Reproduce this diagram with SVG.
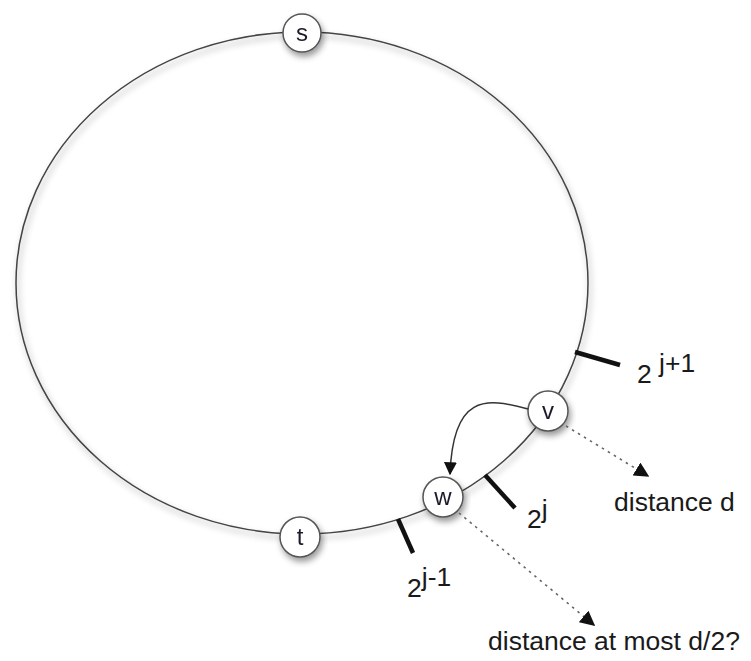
<svg xmlns="http://www.w3.org/2000/svg" width="751" height="661" viewBox="0 0 751 661">
<defs>
<filter id="sh" x="-20%" y="-20%" width="140%" height="150%">
<feDropShadow dx="2" dy="4" stdDeviation="3" flood-color="#000" flood-opacity="0.4"/>
</filter>
<marker id="ah" viewBox="0 0 10 10" refX="9" refY="5" markerWidth="13" markerHeight="13" markerUnits="userSpaceOnUse" orient="auto">
<path d="M0,0 L10,5 L0,10 Z" fill="#111"/>
</marker>
<marker id="ahd" viewBox="0 0 10 10" refX="9" refY="5" markerWidth="15" markerHeight="15" markerUnits="userSpaceOnUse" orient="auto">
<path d="M0,0 L10,5 L0,10 Z" fill="#111"/>
</marker>
</defs>
<style>
.ring{fill:none;stroke:#444;stroke-width:1.5}
.tick{stroke:#111;stroke-width:4.5;stroke-linecap:butt}
.node circle{fill:#fff;stroke:#555;stroke-width:1.5}
.nl{font-family:"Liberation Sans",Arial,sans-serif;font-size:24px;fill:#1a1a2a;text-anchor:middle}
.lbl{font-family:"Liberation Sans",Arial,sans-serif;font-size:26.5px;fill:#1a1a1a}
.edge{fill:none;stroke:#333;stroke-width:1.5}
.dot{fill:none;stroke:#666;stroke-width:1.6;stroke-dasharray:2.5 4.5}
</style>
<ellipse class="ring" cx="302" cy="283" rx="286" ry="251" filter="url(#sh)"/>
<g id="ticks">
<line class="tick" x1="575" y1="352" x2="620" y2="365"/>
<line class="tick" x1="485" y1="475" x2="515" y2="508"/>
<line class="tick" x1="398" y1="519" x2="413" y2="553"/>
</g>
<g id="s" class="node" filter="url(#sh)"><circle cx="302" cy="33" r="19"/><text class="nl" x="302" y="41">s</text></g>
<g id="v" class="node" filter="url(#sh)"><circle cx="548" cy="411" r="20"/><text class="nl" x="548" y="419">v</text></g>
<g id="w" class="node" filter="url(#sh)"><circle cx="443" cy="497" r="20"/><text class="nl" x="443" y="505">w</text></g>
<g id="t" class="node" filter="url(#sh)"><circle cx="300" cy="537" r="20"/><text class="nl" x="300" y="545">t</text></g>
<g id="connectors">
<path class="edge" d="M528,409 C485,397 453,395 450,474" marker-end="url(#ah)"/>
<path class="dot" d="M566,426 L648,476" marker-end="url(#ahd)"/>
<path class="dot" d="M459,513 L594,625" marker-end="url(#ahd)"/>
</g>
<g id="labels">
<text class="lbl" x="637" y="383">2 <tspan dy="-11">j+1</tspan></text>
<text class="lbl" x="527" y="528">2<tspan dy="-10">j</tspan></text>
<text class="lbl" x="407" y="597">2<tspan dy="-11">j-1</tspan></text>
<text class="lbl" x="614" y="511">distance d</text>
<text class="lbl" x="488" y="650">distance at most d/2?</text>
</g>
</svg>
